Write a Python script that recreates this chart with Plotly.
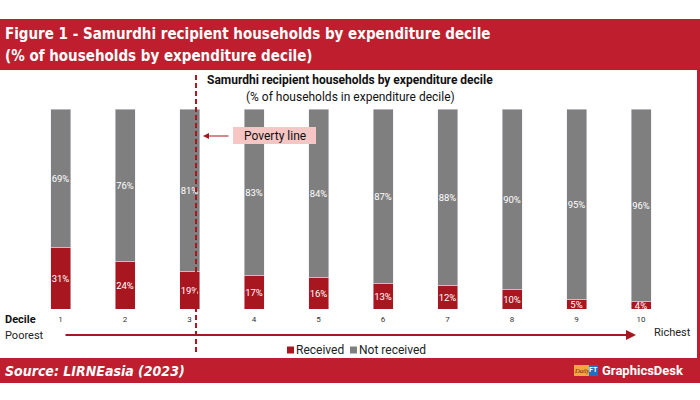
import plotly.graph_objects as go

deciles = [1, 2, 3, 4, 5, 6, 7, 8, 9, 10]
received = [31, 24, 19, 17, 16, 13, 12, 10, 5, 4]
not_received = [69, 76, 81, 83, 84, 87, 88, 90, 95, 96]
tick_labels = ["1", "2", "3", "4", "5", "6", "7", "8", "9", "10"]
series_names = ["Received", "Not received"]

W, H = 700, 400
RED_BAR = "#A8161F"
GRAY = "#7F7F7F"
HEAD = "#BE1E2D"
NARROW = "Liberation Sans Narrow, DejaVu Sans Condensed, Arial Narrow, sans-serif"
ROBOTO = "Roboto, Arial, sans-serif"


def px(x):
    return x / W


def py(y):
    return 1 - y / H


fig = go.Figure()
fig.add_trace(go.Bar(
    x=deciles, y=received, name=series_names[0], marker_color=RED_BAR,
    text=[f"{v}%" for v in received], textposition="inside", textangle=0,
    insidetextanchor="middle", constraintext="none",
    textfont=dict(color="white", size=9.5, family=ROBOTO),
    hoverinfo="skip", showlegend=False,
))
fig.add_trace(go.Bar(
    x=deciles, y=not_received, name=series_names[1], marker_color=GRAY,
    text=[f"{v}%" for v in not_received], textposition="inside", textangle=0,
    insidetextanchor="middle", constraintext="none",
    textfont=dict(color="white", size=9.5, family=ROBOTO),
    hoverinfo="skip", showlegend=False,
))

x0 = 1 - 60.5 / 64.5
x1 = 1 + (W - 60.5) / 64.5

fig.update_layout(
    width=W, height=H,
    margin=dict(l=0, r=0, t=0, b=0),
    paper_bgcolor="white", plot_bgcolor="rgba(0,0,0,0)",
    barmode="stack", bargap=0.69,
    showlegend=False,
    xaxis=dict(domain=[0, 1], range=[x0, x1], tickmode="array",
               tickvals=deciles, ticktext=tick_labels, showgrid=False,
               zeroline=False, showline=False, ticks="",
               tickfont=dict(family=ROBOTO, size=8, color="#333333"),
               ticklabelstandoff=4, fixedrange=True),
    yaxis=dict(domain=[py(309), py(109)], range=[0, 100], showgrid=False,
               zeroline=False, showline=False, showticklabels=False, fixedrange=True),
)

shapes = [
    # red card
    dict(type="rect", xref="paper", yref="paper", x0=0, x1=1, y0=py(383), y1=py(19),
         fillcolor=HEAD, line=dict(width=0), layer="below"),
    # white inner panel
    dict(type="rect", xref="paper", yref="paper", x0=0, x1=px(697), y0=py(358), y1=py(70),
         fillcolor="white", line=dict(width=0), layer="below"),
    # poverty line
    dict(type="line", xref="paper", yref="paper", x0=px(196), x1=px(196), y0=py(75), y1=py(353),
         line=dict(color=RED_BAR, width=2, dash="5px,3px"), layer="above"),
    # poverty line label box
    dict(type="rect", xref="paper", yref="paper", x0=px(233), x1=px(316), y0=py(144), y1=py(127),
         fillcolor="#F5C6C4", line=dict(width=0), layer="above"),
    # legend swatches
    dict(type="rect", xref="paper", yref="paper", x0=px(287), x1=px(294), y0=py(353.5), y1=py(346.5),
         fillcolor=RED_BAR, line=dict(width=0)),
    dict(type="rect", xref="paper", yref="paper", x0=px(350), x1=px(357), y0=py(353.5), y1=py(346.5),
         fillcolor=GRAY, line=dict(width=0)),
    # logo boxes
    dict(type="rect", xref="paper", yref="paper", x0=px(574), x1=px(589), y0=py(376), y1=py(365),
         fillcolor="#F2A93B", line=dict(width=0)),
    dict(type="rect", xref="paper", yref="paper", x0=px(589), x1=px(598), y0=py(376), y1=py(365),
         fillcolor="#1E6FC4", line=dict(width=0)),
]
fig.update_layout(shapes=shapes)

ann = []


def text(x, y, s, size, color="#222222", family=ROBOTO, xanchor="center", pad=1):
    ann.append(dict(xref="paper", yref="paper", x=px(x), y=py(y), text=s, showarrow=False,
                    xanchor=xanchor, yanchor="middle", borderpad=pad,
                    font=dict(size=size, color=color, family=family)))


text(3, 34, "<b>Figure 1 - Samurdhi recipient households by expenditure decile</b>", 15, "white", NARROW, "left")
text(3, 56, "<b>(% of households by expenditure decile)</b>", 15, "white", NARROW, "left")
text(350, 80, "<b>Samurdhi recipient households by expenditure decile</b>", 12, "#111111")
text(350, 97, "(% of households in expenditure decile)", 12, "#111111")
text(275, 136, "Poverty line", 12, "#111111")
text(20, 319, "<b>Decile</b>", 11, "#111111")
text(3, 335, "Poorest", 11, "#222222", ROBOTO, "left")
text(693, 332, "Richest", 11, "#222222", ROBOTO, "right")
text(294, 350, series_names[0], 12, "#222222", ROBOTO, "left")
text(357, 350, series_names[1], 12, "#222222", ROBOTO, "left")
text(3, 371, "<i><b>Source: LIRNEasia (2023)</b></i>", 14, "white", NARROW, "left")
text(601, 370, "<b>GraphicsDesk</b>", 13, "white", ROBOTO, "left", 0)
text(581.5, 370, "<i>Daily</i>", 6.5, "#7A1010", "Liberation Serif, serif", "center", 0)
text(593.5, 370, "<b>FT</b>", 7, "white", ROBOTO, "center", 0)

# Arrow for poverty line label
ann.append(dict(xref="paper", yref="paper", x=px(203), y=py(136), ax=27, ay=0,
                text="", showarrow=True, arrowhead=2, arrowsize=1, arrowwidth=1.2,
                arrowcolor=RED_BAR))
# Poorest -> Richest arrow
ann.append(dict(xref="paper", yref="paper", x=px(636), y=py(335), ax=64 - 636, ay=0,
                text="", showarrow=True, arrowhead=2, arrowsize=1, arrowwidth=2,
                arrowcolor=RED_BAR))
fig.update_layout(annotations=ann)

fig.write_html("out.html", config={"displayModeBar": False},
               post_script="document.body.style.margin='0';document.body.style.overflow='hidden';")
